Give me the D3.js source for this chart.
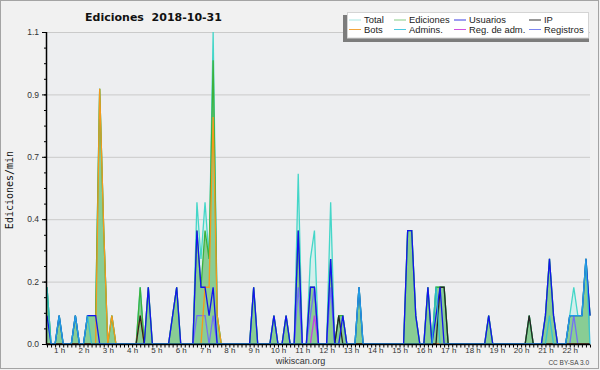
<!DOCTYPE html>
<html>
<head>
<meta charset="utf-8">
<script src="https://cdn.jsdelivr.net/npm/d3@7"></script>
<style>
html, body { margin: 0; padding: 0; background: #f1f1f1; }
svg { display: block; }
</style>
</head>
<body>
<svg id="chart" width="600" height="370"></svg>
<script>
// One value every 10 minutes, first point at 00:30 (edits per minute)
const firstHour = 0.5;
const slotHours = 1 / 6;
const hourTicks = [1, 2, 3, 4, 5, 6, 7, 8, 9, 10, 11, 12, 13, 14, 15, 16, 17, 18, 19, 20, 21, 22];
const yTicks = [0, 0.22, 0.44, 0.66, 0.88, 1.1];

const total = [
    0.2, 0, 0,
    0.1, 0, 0, 0, 0.1, 0,
    0, 0.1, 0.1, 0.1, 0.9, 0.4,
    0, 0.1, 0, 0, 0, 0,
    0, 0, 0.2, 0, 0.2, 0,
    0, 0, 0, 0, 0.1, 0.2,
    0, 0, 0, 0, 0.5, 0.3,
    0.5, 0.3, 1.1, 0.1, 0, 0,
    0, 0, 0, 0, 0, 0,
    0.2, 0, 0, 0, 0, 0.1,
    0, 0, 0.1, 0, 0, 0.6,
    0, 0, 0.3, 0.4, 0, 0,
    0, 0.5, 0, 0.1, 0.1, 0,
    0, 0, 0.2, 0, 0, 0,
    0, 0, 0, 0, 0, 0,
    0, 0, 0.4, 0.4, 0.1, 0,
    0, 0.2, 0, 0.2, 0.2, 0.2,
    0, 0, 0, 0, 0, 0,
    0, 0, 0, 0, 0.1, 0,
    0, 0, 0, 0, 0, 0,
    0, 0, 0.1, 0, 0, 0,
    0.1, 0.3, 0.1, 0, 0, 0,
    0.1, 0.2, 0.1, 0.1, 0.3, 0.1
];
const ediciones = [
    0.2, 0, 0,
    0.1, 0, 0, 0, 0.1, 0,
    0, 0.1, 0.1, 0.1, 0.9, 0.4,
    0, 0.1, 0, 0, 0, 0,
    0, 0, 0.2, 0, 0.2, 0,
    0, 0, 0, 0, 0.1, 0.2,
    0, 0, 0, 0, 0.4, 0.2,
    0.4, 0.3, 1.0, 0.1, 0, 0,
    0, 0, 0, 0, 0, 0,
    0.2, 0, 0, 0, 0, 0.1,
    0, 0, 0.1, 0, 0, 0.4,
    0, 0, 0.2, 0.2, 0, 0,
    0, 0.3, 0, 0.1, 0.1, 0,
    0, 0, 0.2, 0, 0, 0,
    0, 0, 0, 0, 0, 0,
    0, 0, 0.4, 0.4, 0.1, 0,
    0, 0.2, 0, 0.2, 0.2, 0.2,
    0, 0, 0, 0, 0, 0,
    0, 0, 0, 0, 0.1, 0,
    0, 0, 0, 0, 0, 0,
    0, 0, 0.1, 0, 0, 0,
    0.1, 0.3, 0.1, 0, 0, 0,
    0.1, 0.1, 0.1, 0.1, 0.3, 0.1
];
const usuarios = [
    0.1, 0, 0,
    0.1, 0, 0, 0, 0.1, 0,
    0, 0.1, 0.1, 0.1, 0, 0,
    0, 0, 0, 0, 0, 0,
    0, 0, 0, 0, 0.2, 0,
    0, 0, 0, 0, 0.1, 0.2,
    0, 0, 0, 0, 0.4, 0.2,
    0.2, 0.1, 0.2, 0, 0, 0,
    0, 0, 0, 0, 0, 0,
    0.2, 0, 0, 0, 0, 0.1,
    0, 0, 0.1, 0, 0, 0.4,
    0, 0, 0.2, 0.2, 0, 0,
    0, 0.3, 0, 0, 0.1, 0,
    0, 0, 0.2, 0, 0, 0,
    0, 0, 0, 0, 0, 0,
    0, 0, 0.4, 0.4, 0.1, 0,
    0, 0.2, 0, 0.1, 0.2, 0,
    0, 0, 0, 0, 0, 0,
    0, 0, 0, 0, 0.1, 0,
    0, 0, 0, 0, 0, 0,
    0, 0, 0, 0, 0, 0,
    0.1, 0.3, 0.1, 0, 0, 0,
    0.1, 0.1, 0.1, 0.1, 0.3, 0.1
];
const ip = [
    0, 0, 0,
    0, 0, 0, 0, 0, 0,
    0, 0, 0, 0, 0, 0,
    0, 0, 0, 0, 0, 0,
    0, 0, 0.1, 0, 0, 0,
    0, 0, 0, 0, 0, 0,
    0, 0, 0, 0, 0, 0,
    0, 0, 0, 0, 0, 0,
    0, 0, 0, 0, 0, 0,
    0, 0, 0, 0, 0, 0,
    0, 0, 0, 0, 0, 0,
    0, 0, 0, 0, 0, 0,
    0, 0, 0, 0.1, 0, 0,
    0, 0, 0, 0, 0, 0,
    0, 0, 0, 0, 0, 0,
    0, 0, 0, 0, 0, 0,
    0, 0, 0, 0, 0.2, 0.2,
    0, 0, 0, 0, 0, 0,
    0, 0, 0, 0, 0, 0,
    0, 0, 0, 0, 0, 0,
    0, 0, 0.1, 0, 0, 0,
    0, 0, 0, 0, 0, 0,
    0, 0, 0, 0, 0, 0
];
const bots = [
    0, 0, 0,
    0, 0, 0, 0, 0, 0,
    0, 0, 0, 0, 0.9, 0.4,
    0, 0.1, 0, 0, 0, 0,
    0, 0, 0.1, 0, 0, 0,
    0, 0, 0, 0, 0, 0,
    0, 0, 0, 0, 0, 0,
    0.2, 0.2, 0.8, 0.1, 0, 0,
    0, 0, 0, 0, 0, 0,
    0, 0, 0, 0, 0, 0,
    0, 0, 0, 0, 0, 0,
    0, 0, 0, 0, 0, 0,
    0, 0, 0, 0, 0, 0,
    0, 0, 0, 0, 0, 0,
    0, 0, 0, 0, 0, 0,
    0, 0, 0, 0, 0, 0,
    0, 0, 0, 0, 0, 0,
    0, 0, 0, 0, 0, 0,
    0, 0, 0, 0, 0, 0,
    0, 0, 0, 0, 0, 0,
    0, 0, 0, 0, 0, 0,
    0, 0, 0, 0, 0, 0,
    0, 0, 0, 0, 0, 0
];
const admins = [
    0.2, 0, 0,
    0.1, 0, 0, 0, 0.1, 0,
    0, 0.1, 0, 0, 0, 0,
    0, 0, 0, 0, 0, 0,
    0, 0, 0, 0, 0, 0,
    0, 0, 0, 0, 0, 0,
    0, 0, 0, 0, 0, 0,
    0, 0, 0, 0, 0, 0,
    0, 0, 0, 0, 0, 0,
    0, 0, 0, 0, 0, 0,
    0, 0, 0, 0, 0, 0,
    0, 0, 0, 0, 0, 0,
    0, 0, 0, 0, 0, 0,
    0, 0, 0.2, 0, 0, 0,
    0, 0, 0, 0, 0, 0,
    0, 0, 0, 0, 0, 0,
    0, 0, 0, 0.2, 0, 0,
    0, 0, 0, 0, 0, 0,
    0, 0, 0, 0, 0, 0,
    0, 0, 0, 0, 0, 0,
    0, 0, 0, 0, 0, 0,
    0, 0.1, 0, 0, 0, 0,
    0.1, 0.1, 0.1, 0.1, 0.3, 0
];
const regAdm = [
    0, 0, 0,
    0, 0, 0, 0, 0, 0,
    0, 0, 0, 0, 0, 0,
    0, 0, 0, 0, 0, 0,
    0, 0, 0, 0, 0, 0,
    0, 0, 0, 0, 0, 0,
    0, 0, 0, 0, 0, 0,
    0, 0, 0, 0, 0, 0,
    0, 0, 0, 0, 0, 0,
    0, 0, 0, 0, 0, 0,
    0, 0, 0, 0, 0, 0,
    0, 0, 0, 0.1, 0, 0,
    0, 0, 0, 0, 0, 0,
    0, 0, 0, 0, 0, 0,
    0, 0, 0, 0, 0, 0,
    0, 0, 0, 0, 0, 0,
    0, 0, 0, 0, 0, 0,
    0, 0, 0, 0, 0, 0,
    0, 0, 0, 0, 0, 0,
    0, 0, 0, 0, 0, 0,
    0, 0, 0, 0, 0, 0,
    0, 0, 0, 0, 0, 0,
    0, 0, 0, 0, 0, 0
];
const registros = [
    0, 0, 0,
    0, 0, 0, 0, 0, 0,
    0, 0, 0, 0, 0, 0,
    0, 0, 0, 0, 0, 0,
    0, 0, 0, 0, 0, 0,
    0, 0, 0, 0, 0, 0,
    0, 0, 0, 0, 0.1, 0.1,
    0.1, 0, 0.1, 0, 0, 0,
    0, 0, 0, 0, 0, 0,
    0, 0, 0, 0, 0, 0,
    0, 0, 0, 0, 0, 0.2,
    0, 0, 0.1, 0.2, 0, 0,
    0, 0.2, 0, 0, 0, 0,
    0, 0, 0, 0, 0, 0,
    0, 0, 0, 0, 0, 0,
    0, 0, 0, 0, 0, 0,
    0, 0, 0, 0, 0, 0,
    0, 0, 0, 0, 0, 0,
    0, 0, 0, 0, 0, 0,
    0, 0, 0, 0, 0, 0,
    0, 0, 0, 0, 0, 0,
    0, 0, 0, 0, 0, 0,
    0, 0.1, 0, 0, 0, 0
];

// legend order (4 columns, 2 rows)
const series = [
    { name: "Total", values: total, color: "#44d6c8", swatch: "#a6e6e2" },
    { name: "Ediciones", values: ediciones, color: "#3cb23c", swatch: "#86cc86" },
    { name: "Usuarios", values: usuarios, color: "#1414ee", swatch: "#3a3ae2" },
    { name: "IP", values: ip, color: "#262626", swatch: "#333333" },
    { name: "Bots", values: bots, color: "#f39a1c", swatch: "#f2a53c" },
    { name: "Admins.", values: admins, color: "#26bee2", swatch: "#4ccae0" },
    { name: "Reg. de adm.", values: regAdm, color: "#c442e2", swatch: "#d050e0" },
    { name: "Registros", values: registros, color: "#7272f2", swatch: "#7c86f0" }
];
const byName = {};
series.forEach(s => byName[s.name] = s);

const width = 600;
const height = 370;
const plot = { left: 47, right: 590, top: 32, bottom: 344 };
const sans = "'Liberation Sans', Arial, sans-serif";

let svg = d3.select("#chart");

// frame
svg.append("rect")
    .attr("x", 0.5).attr("y", 0.5)
    .attr("width", width - 2).attr("height", height - 2)
    .attr("fill", "#f1f1f1").attr("stroke", "#a4a4a4");

svg.append("rect")
    .attr("x", plot.left).attr("y", plot.top)
    .attr("width", plot.right - plot.left).attr("height", plot.bottom - plot.top)
    .attr("fill", "#edeef0");

const slots = total.map((d, i) => firstHour + i * slotHours);

let x = d3.scaleLinear()
    .domain([slots[0], slots[slots.length - 1]])
    .range([plot.left, plot.right]);

let y = d3.scaleLinear()
    .domain([0, 1.1])
    .range([plot.bottom, plot.top]);

// grid
svg.append("g")
    .attr("transform", "translate(" + plot.left + ",0)")
    .call(d3.axisLeft(y).tickValues(yTicks.slice(1)).tickSize(-(plot.right - plot.left)).tickFormat(""))
    .call(g => g.select(".domain").remove())
    .selectAll("line").attr("stroke", "#cacaca");

// areas
let area = d3.area()
    .x((d, i) => x(slots[i]))
    .y0(y(0))
    .y1(d => y(d));

let line = d3.line()
    .x((d, i) => x(slots[i]))
    .y(d => y(d));

svg.append("path")
    .attr("d", area(total))
    .attr("fill", "#b4f0e6").attr("fill-opacity", 0.45);

svg.append("path")
    .attr("d", area(ediciones))
    .attr("fill", "#5cb85e").attr("fill-opacity", 0.62);

// lines, drawn back to front
const drawOrder = ["Total", "Ediciones", "Registros", "Reg. de adm.", "Bots", "IP", "Usuarios", "Admins."];
drawOrder.forEach(name => {
    let s = byName[name];
    svg.append("path")
        .attr("d", line(s.values))
        .attr("fill", "none")
        .attr("stroke", s.color)
        .attr("stroke-width", 1.3)
        .attr("stroke-opacity", name === "Admins." ? 0.8 : 1)
        .attr("stroke-linejoin", "miter");
});

// y axis
let yAxis = svg.append("g")
    .attr("transform", "translate(" + plot.left + ",0)");
yAxis.call(d3.axisLeft(y).tickValues(d3.range(0, 1.1 + 1e-9, 0.055)).tickSize(3).tickFormat(""))
    .call(g => g.select(".domain").remove());
yAxis.append("g")
    .call(d3.axisLeft(y).tickValues(yTicks).tickSize(5).tickPadding(3).tickFormat(d3.format(".1f")))
    .call(g => g.select(".domain").remove())
    .call(g => g.selectAll("text").attr("font-family", sans).attr("font-size", 8.5).attr("fill", "#333"));
yAxis.selectAll("line").attr("stroke", "#000");

svg.append("line")
    .attr("x1", plot.left - 0.5).attr("x2", plot.left - 0.5)
    .attr("y1", plot.top).attr("y2", plot.bottom + 1)
    .attr("stroke", "#000").attr("stroke-width", 1.5);

// x axis
let xAxis = svg.append("g")
    .attr("transform", "translate(0," + (plot.bottom + 0.5) + ")");
xAxis.call(d3.axisBottom(x).tickValues(slots).tickSize(3).tickFormat(""))
    .call(g => g.select(".domain").remove());
xAxis.append("g")
    .call(d3.axisBottom(x).tickValues(hourTicks).tickSize(0).tickPadding(2.6).tickFormat(d => d + " h"))
    .call(g => g.select(".domain").remove())
    .call(g => g.selectAll("text").attr("font-family", sans).attr("font-size", 8).attr("fill", "#333"));
xAxis.selectAll("line").attr("stroke", "#000");

svg.append("line")
    .attr("x1", plot.left - 1).attr("x2", plot.right)
    .attr("y1", plot.bottom + 0.5).attr("y2", plot.bottom + 0.5)
    .attr("stroke", "#000").attr("stroke-width", 1.5);

// titles
svg.append("text")
    .attr("x", 153.5).attr("y", 21)
    .attr("text-anchor", "middle")
    .attr("font-family", "'DejaVu Sans', sans-serif")
    .attr("font-weight", "bold")
    .attr("font-size", 11)
    .attr("fill", "#111")
    .style("white-space", "pre")
    .text("Ediciones  2018-10-31");

svg.append("text")
    .attr("transform", "translate(13,190) rotate(-90)")
    .attr("text-anchor", "middle")
    .attr("font-family", "'DejaVu Sans Mono', monospace")
    .attr("font-size", 10)
    .attr("fill", "#111")
    .text("Ediciones/min");

svg.append("text")
    .attr("x", 300.5).attr("y", 364)
    .attr("text-anchor", "middle")
    .attr("font-family", sans).attr("font-size", 9)
    .attr("fill", "#333")
    .text("wikiscan.org");

svg.append("text")
    .attr("x", 589).attr("y", 365)
    .attr("text-anchor", "end")
    .attr("font-family", sans).attr("font-size", 6.5)
    .attr("fill", "#444")
    .text("CC BY-SA 3.0");

// legend
const legendCols = [348, 393, 453, 528];
let legend = svg.append("g");
legend.append("rect")
    .attr("x", 343).attr("y", 15)
    .attr("width", 246).attr("height", 27)
    .attr("fill", "#7c7c7c");
legend.append("rect")
    .attr("x", 347.5).attr("y", 12.5)
    .attr("width", 241).attr("height", 25.5)
    .attr("fill", "#fff").attr("stroke", "#d4d4d4");

let items = legend.selectAll("g.item")
    .data(series).enter().append("g")
    .attr("class", "item")
    .attr("transform", (d, i) => "translate(" + legendCols[i % 4] + "," + (19.5 + Math.floor(i / 4) * 9.5) + ")");

items.append("line")
    .attr("x1", 1).attr("x2", 13)
    .attr("y1", 0.5).attr("y2", 0.5)
    .attr("stroke", d => d.swatch);

items.append("text")
    .attr("x", 16).attr("y", 3.6)
    .attr("font-family", sans).attr("font-size", 9.4)
    .attr("fill", "#222")
    .text(d => d.name);
</script>
</body>
</html>
